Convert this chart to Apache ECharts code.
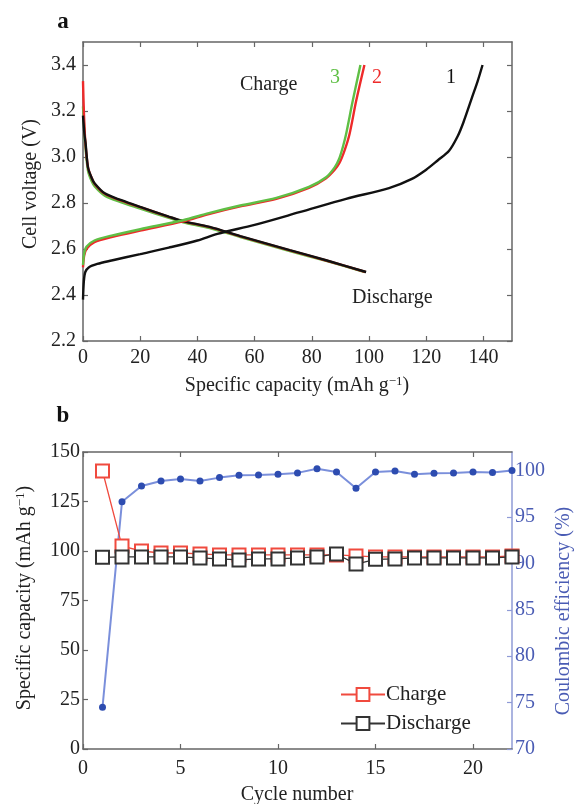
<!DOCTYPE html>
<html><head><meta charset="utf-8">
<script src="https://cdn.jsdelivr.net/npm/echarts@6/dist/echarts.min.js"></script>
<style>html,body{margin:0;padding:0;background:#fff}#c{width:576px;height:804px}</style>
</head><body><div id="c"></div><script>
// ---------- Panel a: voltage profiles [capacity mAh/g, voltage V] ----------
const capTicksA = [0, 20, 40, 60, 80, 100, 120, 140];
const voltTicks = [2.2, 2.4, 2.6, 2.8, 3.0, 3.2, 3.4];
const charge1 = [[0,2.38],[0.3,2.46],[0.8,2.50],[2,2.52],[5,2.535],[10,2.55],[20,2.578],[30,2.606],[40,2.637],[47,2.666],[60,2.705],[75.7,2.76],[92,2.818],[107,2.865],[115,2.905],[120,2.945],[124,2.985],[128,3.027],[131,3.09],[133,3.15],[136,3.258],[138,3.33],[139.7,3.40]];
const charge2 = [[0,2.52],[0.4,2.57],[1.2,2.60],[4,2.63],[10,2.652],[20,2.68],[35,2.72],[44,2.752],[55,2.785],[67.6,2.818],[79,2.866],[85,2.908],[88,2.945],[89.7,2.975],[91.5,3.03],[93.2,3.10],[95.5,3.243],[98.4,3.40]];
const charge3 = [[0,2.53],[0.4,2.58],[1.2,2.61],[4,2.637],[10,2.658],[20,2.686],[35,2.725],[44,2.756],[55,2.789],[67.6,2.822],[79,2.87],[85,2.912],[88,2.955],[89.5,2.99],[91,3.05],[92,3.10],[94.3,3.243],[97,3.40]];
const discharge1 = [[0,3.18],[0.5,3.10],[0.9,3.06],[1.75,2.955],[3,2.91],[4.1,2.885],[7.6,2.842],[13.4,2.812],[20,2.783],[30,2.741],[35,2.721],[44.3,2.696],[55,2.656],[72.3,2.595],[85,2.551],[99,2.50]];
const discharge2 = [[0,3.33],[0.3,3.20],[0.8,3.07],[1.75,2.955],[3,2.91],[4.1,2.883],[7.6,2.84],[13.4,2.81],[20,2.782],[30,2.74],[35,2.72],[44.3,2.695],[55,2.655],[72.3,2.594],[85,2.55],[98.8,2.50]];
const discharge3 = [[0,3.22],[0.3,3.15],[0.8,3.05],[1.75,2.94],[3,2.895],[4.1,2.872],[7.6,2.832],[13.4,2.803],[20,2.776],[30,2.735],[35,2.716],[44.3,2.691],[55,2.652],[72.3,2.591],[85,2.548],[98.5,2.50]];

// ---------- Panel b: cycling ----------
const cycleTicks = [0, 5, 10, 15, 20];
const ceTicks = [70, 75, 80, 85, 90, 95, 100];
const cycles = [1,2,3,4,5,6,7,8,9,10,11,12,13,14,15,16,17,18,19,20,21,22];
const chargeCap = [140.4,102.5,100,99,99,98.5,98,98,98,98,98,98,98,97.5,97,97,97,97,97,97,97,97.5];
const dischargeCap = [96.8,97,97,97,97,96.5,96,95.5,96,96,96.5,97,98.5,93.4,95.8,96,96.5,96.5,96.5,96.5,96.5,97];
const coulombicEff = [74.5,96.65,98.34,98.88,99.1,98.88,99.24,99.5,99.53,99.6,99.75,100.2,99.85,98.1,99.85,99.96,99.6,99.7,99.75,99.85,99.8,100.0];

const pairs = (xs, ys) => xs.map((x, i) => [x, ys[i]]);
const FONT = '"Liberation Serif", "DejaVu Serif", serif';
const AX = '#666';
const BLUE_AX = '#8f9bd6';
const BLUE_TXT = '#4a5cb4';

const lineA = (data, color, z) => ({
  type: 'line', xAxisIndex: 0, yAxisIndex: 0, data, showSymbol: false, symbol: 'none',
  smooth: 0.3, z,
  lineStyle: { color, width: 2.4 }, emphasis: { disabled: true }, silent: true, animation: false
});

const baseAxis = (extra) => Object.assign({
  type: 'value', splitLine: { show: false },
  axisLine: { show: true, onZero: false, lineStyle: { color: AX, width: 1.5 } },
  axisTick: { show: true, inside: true, length: 5, lineStyle: { color: AX, width: 1.2 } },
  axisLabel: { show: true, fontFamily: FONT, fontSize: 20, color: '#222' }
}, extra);

const option = {
  animation: false,
  backgroundColor: '#fff',
  grid: [
    { left: 83, top: 42, width: 429, height: 299 },
    { left: 83, top: 452, width: 429, height: 297 }
  ],
  xAxis: [
    baseAxis({ gridIndex: 0, position: 'bottom', min: 0, max: 150,
      axisTick: { show: true, inside: true, length: 5, customValues: capTicksA, lineStyle: { color: AX, width: 1.2 } },
      axisLabel: { fontFamily: FONT, fontSize: 20, color: '#222', margin: 7, customValues: capTicksA } }),
    baseAxis({ gridIndex: 0, position: 'top', min: 0, max: 150,
      axisTick: { show: true, inside: true, length: 5, customValues: capTicksA, lineStyle: { color: AX, width: 1.2 } },
      axisLabel: { show: false } }),
    baseAxis({ gridIndex: 1, position: 'bottom', min: 0, max: 22,
      axisTick: { show: true, inside: true, length: 5, customValues: cycleTicks, lineStyle: { color: AX, width: 1.2 } },
      axisLabel: { fontFamily: FONT, fontSize: 20, color: '#222', margin: 10, customValues: cycleTicks } }),
    baseAxis({ gridIndex: 1, position: 'top', min: 0, max: 22,
      axisTick: { show: true, inside: true, length: 5, customValues: cycleTicks, lineStyle: { color: AX, width: 1.2 } },
      axisLabel: { show: false } })
  ],
  yAxis: [
    baseAxis({ gridIndex: 0, position: 'left', min: 2.2, max: 3.5,
      axisTick: { show: true, inside: true, length: 5, customValues: voltTicks, lineStyle: { color: AX, width: 1.2 } },
      axisLabel: { fontFamily: FONT, fontSize: 20, color: '#222', margin: 7, customValues: voltTicks, formatter: v => Number(v).toFixed(1) } }),
    baseAxis({ gridIndex: 0, position: 'right', min: 2.2, max: 3.5,
      axisTick: { show: true, inside: true, length: 5, customValues: voltTicks, lineStyle: { color: AX, width: 1.2 } },
      axisLabel: { show: false } }),
    baseAxis({ gridIndex: 1, position: 'left', min: 0, max: 150, interval: 25,
      axisLabel: { fontFamily: FONT, fontSize: 20, color: '#222', margin: 3 } }),
    baseAxis({ gridIndex: 1, position: 'right', min: 70, max: 102,
      axisLine: { show: true, onZero: false, lineStyle: { color: BLUE_AX, width: 1.5 } },
      axisTick: { show: true, inside: true, length: 5, customValues: ceTicks, lineStyle: { color: BLUE_AX, width: 1.2 } },
      axisLabel: { fontFamily: FONT, fontSize: 20, color: BLUE_TXT, margin: 3, customValues: ceTicks } })
  ],
  legend: {
    data: ['Charge', 'Discharge'], orient: 'vertical', left: 335, top: 679,
    itemWidth: 44, itemHeight: 16, itemGap: 8,
    textStyle: { fontFamily: FONT, fontSize: 21, color: '#222', padding: [0, 0, 0, -4] },
    selectedMode: false
  },
  series: [
    lineA(discharge3, '#5fbf45', 2),
    lineA(discharge2, '#ee2a2a', 3),
    lineA(discharge1, '#111111', 4),
    lineA(charge1, '#111111', 4),
    lineA(charge2, '#ee2a2a', 5),
    lineA(charge3, '#5fbf45', 6),
    {
      name: 'Coulombic efficiency', type: 'line', xAxisIndex: 2, yAxisIndex: 3,
      data: pairs(cycles, coulombicEff), symbol: 'circle', symbolSize: 7,
      lineStyle: { color: '#7a8fdb', width: 2 }, itemStyle: { color: '#2d4cb0' }, z: 3,
      emphasis: { disabled: true }, silent: true
    },
    {
      name: 'Charge', type: 'line', xAxisIndex: 2, yAxisIndex: 2,
      data: pairs(cycles, chargeCap), symbol: 'emptyRect', symbolSize: 13,
      lineStyle: { color: '#f04a3e', width: 1.3 }, itemStyle: { color: '#f04a3e', borderWidth: 1.3 }, z: 4,
      emphasis: { disabled: true }, silent: true
    },
    {
      name: 'Discharge', type: 'line', xAxisIndex: 2, yAxisIndex: 2,
      data: pairs(cycles, dischargeCap), symbol: 'emptyRect', symbolSize: 13,
      lineStyle: { color: '#333', width: 1.3 }, itemStyle: { color: '#333', borderWidth: 1.3 }, z: 5,
      emphasis: { disabled: true }, silent: true
    }
  ],
  graphic: [
    { type: 'text', x: 63, y: 22, style: { text: 'a', font: 'bold 23px ' + FONT, fill: '#111', align: 'center', verticalAlign: 'middle' } },
    { type: 'text', x: 63, y: 416, style: { text: 'b', font: 'bold 23px ' + FONT, fill: '#111', align: 'center', verticalAlign: 'middle' } },
    { type: 'text', x: 240, y: 85, style: { text: 'Charge', font: '20px ' + FONT, fill: '#222', align: 'left', verticalAlign: 'middle' } },
    { type: 'text', x: 335, y: 78, style: { text: '3', font: '20px ' + FONT, fill: '#5fbf45', align: 'center', verticalAlign: 'middle' } },
    { type: 'text', x: 377, y: 78, style: { text: '2', font: '20px ' + FONT, fill: '#ee2a2a', align: 'center', verticalAlign: 'middle' } },
    { type: 'text', x: 451, y: 78, style: { text: '1', font: '20px ' + FONT, fill: '#111', align: 'center', verticalAlign: 'middle' } },
    { type: 'text', x: 352, y: 298, style: { text: 'Discharge', font: '20px ' + FONT, fill: '#222', align: 'left', verticalAlign: 'middle' } },
    { type: 'text', x: 31, y: 184, rotation: Math.PI / 2, style: { text: 'Cell voltage (V)', font: '20px ' + FONT, fill: '#222', align: 'center', verticalAlign: 'middle' } },
    { type: 'text', x: 297, y: 386, style: {
        text: 'Specific capacity (mAh g{s|−1})', font: '20px ' + FONT, fill: '#222', align: 'center', verticalAlign: 'middle',
        rich: { s: { fontSize: 13, fontFamily: FONT, fill: '#222', verticalAlign: 'top', padding: [0, 0, 8, 0] } } } },
    { type: 'text', x: 25, y: 598, rotation: Math.PI / 2, style: {
        text: 'Specific capacity (mAh g{s|−1})', font: '20px ' + FONT, fill: '#222', align: 'center', verticalAlign: 'middle',
        rich: { s: { fontSize: 13, fontFamily: FONT, fill: '#222', verticalAlign: 'top', padding: [0, 0, 8, 0] } } } },
    { type: 'text', x: 564, y: 611, rotation: Math.PI / 2, style: { text: 'Coulombic efficiency (%)', font: '20px ' + FONT, fill: BLUE_TXT, align: 'center', verticalAlign: 'middle' } },
    { type: 'text', x: 297, y: 795, style: { text: 'Cycle number', font: '20px ' + FONT, fill: '#222', align: 'center', verticalAlign: 'middle' } }
  ]
};
const chart = echarts.init(document.getElementById('c'), null, { renderer: 'canvas' });
chart.setOption(option);
</script></body></html>
